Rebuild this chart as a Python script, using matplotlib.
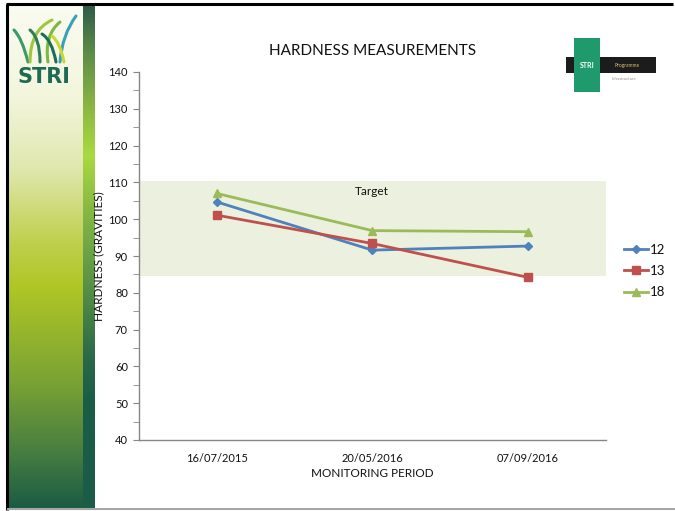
import numpy as np
import matplotlib
matplotlib.use("Agg")
import matplotlib.pyplot as plt
from matplotlib.patches import Rectangle, PathPatch
from matplotlib.path import Path
from matplotlib.colors import LinearSegmentedColormap
from matplotlib.lines import Line2D

plt.rcParams['font.family'] = ['Lato', 'DejaVu Sans']

# ---- data ----
dates = ['16/07/2015', '20/05/2016', '07/09/2016']
series_names = ['12', '13', '18']
s12 = [104.7, 91.6, 92.7]
s13 = [101.1, 93.4, 84.2]
s18 = [107.0, 96.9, 96.6]
target_low = 84.7
target_high = 110.4
target_label = 'Target'
y_ticks = [40, 50, 60, 70, 80, 90, 100, 110, 120, 130, 140]

colors = ['#4F81BD', '#C0504D', '#9BBB59']
markers = ['D', 's', '^']
msizes = [4, 6, 6]
txt = '#111111'

W, H = 675, 511
fig = plt.figure(figsize=(W / 100, H / 100), dpi=100)
fig.patch.set_facecolor('white')

# ---- background decoration axes (pixel coordinates) ----
bg = fig.add_axes([0, 0, 1, 1], zorder=0)
bg.set_xlim(0, W)
bg.set_ylim(H, 0)
bg.axis('off')

panel_cmap = LinearSegmentedColormap.from_list('panel', [
    (0.0, '#fafbf2'), (0.18, '#f3f6dc'), (0.32, '#e0e8b0'),
    (0.47, '#bfd04e'), (0.56, '#afc626'), (0.75, '#7aa234'),
    (0.88, '#4a8040'), (1.0, '#1b5b45')])
grad = np.linspace(0, 1, 256).reshape(-1, 1)
bg.imshow(grad, cmap=panel_cmap, aspect='auto', extent=(8, 83, 509, 5), zorder=1)

stripe_cmap = LinearSegmentedColormap.from_list('stripe', [
    (0.0, '#2c5a4a'), (0.1, '#5e8e48'), (0.2, '#8ab543'), (0.3, '#a9da40'),
    (0.4, '#8aba44'), (0.55, '#5a9446'), (0.7, '#2a6a48'), (0.78, '#1b5e47'),
    (1.0, '#1a5c48')])
bg.imshow(grad, cmap=stripe_cmap, aspect='auto', extent=(83, 95, 509, 3), zorder=1)

# borders
bg.plot([6, 673], [4.5, 4.5], color='black', lw=2.2, zorder=3, solid_capstyle='butt')
bg.plot([7, 7], [4, 510], color='black', lw=2.2, zorder=3, solid_capstyle='butt')
bg.plot([8, 675], [509.5, 509.5], color='#a6a6a6', lw=1.5, zorder=3)

# STRI logo (left)
def blade(p0, p1, p2, color, lw):
    path = Path([p0, p1, p2], [Path.MOVETO, Path.CURVE3, Path.CURVE3])
    bg.add_patch(PathPatch(path, fill=False, edgecolor=color, lw=lw,
                           capstyle='round', zorder=4))

blade((28, 62), (22, 38), (14, 30), '#3a9a6a', 2.2)
blade((30, 62), (30, 30), (52, 20), '#9cc83a', 2.2)
blade((40, 62), (40, 38), (30, 30), '#2e7e5a', 2.2)
blade((48, 62), (44, 35), (60, 22), '#7ab842', 2.2)
blade((56, 62), (52, 40), (42, 34), '#1e6e56', 2.2)
blade((60, 62), (62, 35), (76, 16), '#3aa0b8', 2.2)
blade((64, 62), (60, 42), (52, 36), '#c8d830', 2.2)
bg.text(44, 77, 'STRI', ha='center', va='center', fontsize=15, fontweight='bold',
        color='#1e6a55', family=['DejaVu Sans'], zorder=5)

# STRI logo (top right)
bg.add_patch(Rectangle((566, 57), 90, 16, facecolor='#1c1c1c', zorder=4))
bg.add_patch(Rectangle((574, 38), 26, 54, facecolor='#1f9a6c', zorder=5))
bg.text(587, 65, 'STRI', ha='center', va='center', fontsize=5, color='white',
        fontweight='bold', zorder=6)
bg.text(627, 65, 'Programme', ha='center', va='center', fontsize=3.5,
        color='#d8c070', zorder=6)
bg.text(624, 79, 'Infrastructure', ha='center', va='center', fontsize=3,
        color='#909090', zorder=6)

# ---- chart axes ----
ax = fig.add_axes([139 / W, 1 - 440 / H, 466.5 / W, 368 / H], zorder=2)
ax.patch.set_alpha(0)
x = np.arange(len(dates))
ax.axhspan(target_low, target_high, facecolor='#EBF1DE', edgecolor='none', zorder=1)
for vals, name, c, m, ms in zip([s12, s13, s18], series_names, colors, markers, msizes):
    ax.plot(x, vals, color=c, lw=2, marker=m, markersize=ms, label=name, zorder=3)

ax.text(1, 107.4, target_label, ha='center', va='center', fontsize=8.5, color=txt)

ax.set_xlim(-0.5, 2.5)
ax.set_ylim(40, 140)
ax.set_yticks(y_ticks)
ax.set_yticks(np.arange(45, 140, 10), minor=True)
ax.set_xticks(x)
ax.set_xticklabels(dates)
for s in ['top', 'right']:
    ax.spines[s].set_visible(False)
for s in ['left', 'bottom']:
    ax.spines[s].set_color('#868686')
    ax.spines[s].set_linewidth(1)
ax.tick_params(axis='y', which='both', direction='out', length=4, color='#868686',
               labelsize=8, labelcolor=txt, pad=4)
ax.tick_params(axis='x', length=0, labelsize=8, labelcolor=txt, pad=9)

ax.set_xlabel('MONITORING PERIOD', fontsize=8.5, color=txt, labelpad=3)
ax.set_ylabel('HARDNESS (GRAVITIES)', fontsize=8.5, color=txt)
ax.yaxis.set_label_coords((104 - 139) / 466.5, 0.5)
ax.set_title('HARDNESS MEASUREMENTS', fontsize=11, color=txt, pad=12)

handles = [Line2D([0], [0], color=c, lw=2, marker=m, markersize=ms)
           for c, m, ms in zip(colors, markers, msizes)]
leg = fig.legend(handles, series_names, loc='center left',
                 bbox_to_anchor=(612 / W, 1 - 271 / H),
                 frameon=False, fontsize=9.5, handlelength=1.8, handletextpad=0.2,
                 labelspacing=0.7)
for t in leg.get_texts():
    t.set_color(txt)

fig.savefig('out.png', dpi=100)
